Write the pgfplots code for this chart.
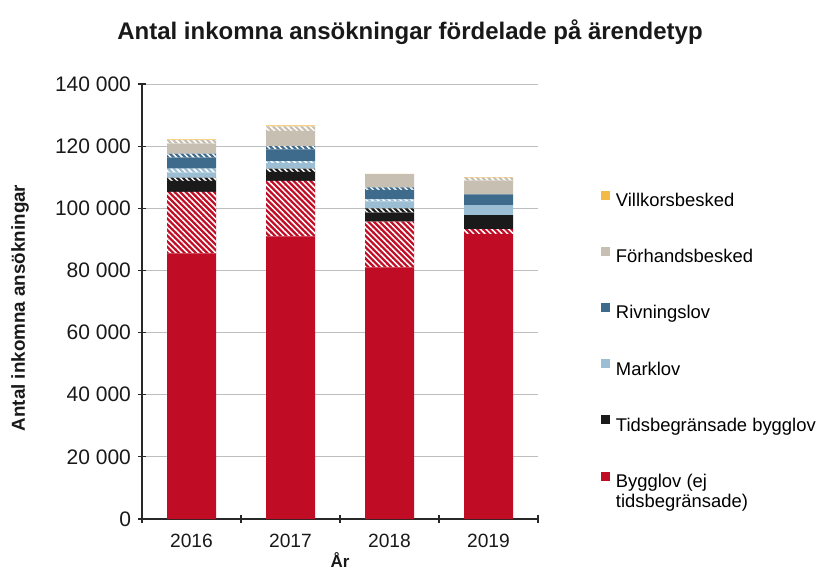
\documentclass[border=0pt]{standalone}
\usepackage{fontspec}
\setmainfont{Liberation Sans}
\usepackage{pgfplots}
\usepackage{pgfplotstable}
\pgfplotsset{compat=1.18}
\usetikzlibrary{patterns.meta}

\definecolor{bygg}{RGB}{192,12,36}
\definecolor{tids}{RGB}{26,26,26}
\definecolor{mark}{RGB}{155,190,212}
\definecolor{riv}{RGB}{62,106,140}
\definecolor{forh}{RGB}{199,192,178}
\definecolor{vill}{RGB}{245,185,70}
\definecolor{gridc}{RGB}{190,190,190}
\definecolor{axc}{RGB}{40,40,40}

% s = solid part, h = hatched part
\pgfplotstableread{
x bs    bh    ts   th   ms   mh   rs   rh   fs   fh   vs
1 85500 19800 3500 1100 1600 1300 3500 1300 3200 1100 300
2 91000 17800 2900 1100 1700 700  3800 1000 4900 1500 300
3 81000 14700 2900 1400 2200 700  3000 800  4300 0    100
4 91700 1600  4500 0    3200 0    3500 0    4400 1000 100
}\data

\tikzset{hatch/.style={postaction={pattern={Lines[angle=-45,distance=2pt,line width=0.75pt]},pattern color=white}}}

\begin{document}
\begin{tikzpicture}
\begin{axis}[
  at={(71pt,25pt)}, anchor=south west,
  scale only axis,
  width=198pt, height=217.5pt,
  ybar stacked,
  bar width=24.5pt,
  xmin=0.5, xmax=4.5,
  ymin=0, ymax=140000,
  scaled y ticks=false,
  ytick={0,20000,40000,60000,80000,100000,120000,140000},
  yticklabels={0,20 000,40 000,60 000,80 000,100 000,120 000,140 000},
  xtick={1,2,3,4},
  xticklabels={2016,2017,2018,2019},
  minor xtick={0.5,1.5,2.5,3.5,4.5},
  major x tick style={draw=none},
  tick align=outside,
  major tick length=4pt,
  minor tick length=4pt,
  axis lines=left,
  axis line style={-, draw=axc, line width=0.6pt},
  tick style={draw=axc, line width=0.6pt},
  ymajorgrids=true,
  grid style={draw=gridc, line width=0.5pt},
  yticklabel style={font=\fontsize{10.5}{12}\selectfont, text=black!90},
  xticklabel style={font=\fontsize{9.6}{11}\selectfont, text=black!90, yshift=-2pt},
  reverse legend,
  legend cell align=left,
  legend image code/.code={\fill[#1, draw=none] (0pt,1pt) rectangle (4.5pt,5.5pt);},
  legend style={at={(1.159,0.755)}, anchor=north west, draw=none, fill=none,
    inner sep=0pt, outer sep=0pt,
    font=\fontsize{9.2}{11}\selectfont,
    nodes={inner sep=0pt, text height=7pt, text depth=2pt},
    row sep=18.1pt, column sep=3pt},
]
\addplot[fill=bygg, draw=none] table[x=x,y=bs]{\data};
\addlegendentry{\begin{tabular}[t]{@{}l@{}}Bygglov (ej\\[-1pt]tidsbegränsade)\end{tabular}}
\addplot[fill=bygg, draw=none, hatch, forget plot] table[x=x,y=bh]{\data};
\addplot[fill=tids, draw=none] table[x=x,y=ts]{\data};
\addlegendentry{Tidsbegränsade bygglov}
\addplot[fill=tids, draw=none, hatch, forget plot] table[x=x,y=th]{\data};
\addplot[fill=mark, draw=none] table[x=x,y=ms]{\data};
\addlegendentry{Marklov}
\addplot[fill=mark, draw=none, hatch, forget plot] table[x=x,y=mh]{\data};
\addplot[fill=riv, draw=none] table[x=x,y=rs]{\data};
\addlegendentry{Rivningslov}
\addplot[fill=riv, draw=none, hatch, forget plot] table[x=x,y=rh]{\data};
\addplot[fill=forh, draw=none] table[x=x,y=fs]{\data};
\addlegendentry{Förhandsbesked}
\addplot[fill=forh, draw=none, hatch, forget plot] table[x=x,y=fh]{\data};
\addplot[fill=vill, draw=none] table[x=x,y=vs]{\data};
\addlegendentry{Villkorsbesked}
\end{axis}
\node[font=\bfseries\fontsize{12}{14}\selectfont, text=black!90] at (205pt,268.5pt) {Antal inkomna ansökningar fördelade på ärendetyp};
\node[font=\bfseries\fontsize{9.4}{11}\selectfont, text=black!90, rotate=90] at (10pt,130.5pt) {Antal inkomna ansökningar};
\node[font=\bfseries\fontsize{8.5}{10}\selectfont, text=black!90, anchor=south, inner sep=0pt] at (170pt,0.8pt) {År};
\pgfresetboundingbox
\path[use as bounding box] (0,0) rectangle (412pt,284.5pt);
\end{tikzpicture}
\end{document}
